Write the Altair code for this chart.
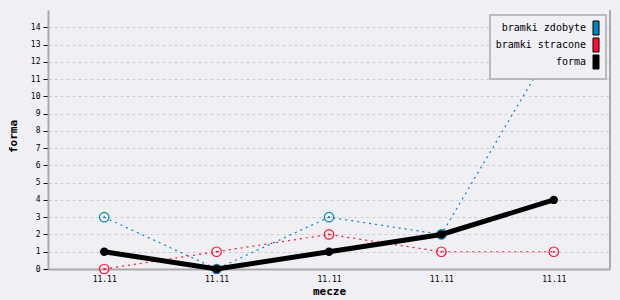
import altair as alt
import pandas as pd

mecze = ["11.11", "11.11", "11.11", "11.11", "11.11"]
bramki_zdobyte = [3, 0, 3, 2, 13]
bramki_stracone = [0, 1, 2, 1, 1]
forma = [1, 0, 1, 2, 4]

series_names = ["bramki zdobyte", "bramki stracone", "forma"]
series_colors = ["#0a82c0", "#ff1030", "#000000"]

idx = list(range(len(mecze)))
df = pd.DataFrame({"i": idx, "mecz": mecze, "zdobyte": bramki_zdobyte,
                   "stracone": bramki_stracone, "forma": forma})

label_arr = "[" + ",".join("'%s'" % m for m in mecze) + "]"
FONT = "DejaVu Sans Mono"

x_enc = alt.X("i:O", scale=alt.Scale(type="point", padding=0.5),
              axis=alt.Axis(title="mecze", labelExpr=label_arr + "[datum.value]",
                            labelAngle=0, ticks=False, labelPadding=6, grid=False,
                            domainColor="#aaaaaa", domainWidth=2,
                            titleFont=FONT, titleFontSize=11, titleFontWeight="bold",
                            titleBaseline="alphabetic", titleY=25,
                            labelFont=FONT, labelFontSize=8,
                            labelColor="#000000", titleColor="#000000"))

y_axis = alt.Axis(title="forma", values=list(range(0, 15)), tickColor="#000000",
                  tickSize=5, labelPadding=3, grid=True, gridColor="#cccccc",
                  gridDash=[3, 3], domainColor="#aaaaaa", domainWidth=2,
                  titleFont=FONT, titleFontSize=11, titleFontWeight="bold",
                  titleX=-30, titleY=126, titleAngle=-90,
                  labelFont=FONT, labelFontSize=8, labelColor="#000000",
                  titleColor="#000000")
y_scale = alt.Scale(domain=[0, 15], nice=False)

base = alt.Chart(df)

def yenc(field):
    return alt.Y(field + ":Q", scale=y_scale, axis=y_axis, title="forma")

def dotted(field, color):
    y = yenc(field)
    line = base.mark_line(color=color, strokeWidth=1.2, strokeDash=[2, 4]).encode(x=x_enc, y=y)
    ring = base.mark_point(shape="circle", filled=False, color=color, size=90,
                           strokeWidth=1.2, opacity=1).encode(x=x_enc, y=y)
    dot = base.mark_point(shape="square", filled=True, color=color, size=3,
                          opacity=1).encode(x=x_enc, y=y)
    return line + ring + dot

blue = dotted("zdobyte", series_colors[0])
red = dotted("stracone", series_colors[1])
yk = yenc("forma")
black = (base.mark_line(color="#000000", strokeWidth=5).encode(x=x_enc, y=yk)
         + base.mark_point(shape="circle", filled=True, color="#000000", size=70,
                           opacity=1).encode(x=x_enc, y=yk))

one = pd.DataFrame({"a": [0]})
right_border = alt.Chart(one).mark_rule(color="#aaaaaa", strokeWidth=2).encode(
    x=alt.value(562), y=alt.value(0), y2=alt.value(259))

# legend (drawn by hand: labels right-aligned, swatches on the right)
leg_layers = [alt.Chart(one).mark_rect(
    fill="#efeff4", stroke="#aaaaaa", strokeWidth=1.5).encode(
    x=alt.value(442), x2=alt.value(558), y=alt.value(5), y2=alt.value(69))]
for k, (name, col) in enumerate(zip(series_names, series_colors)):
    cy = 18 + 17 * k
    leg_layers.append(alt.Chart(pd.DataFrame({"name": [name]})).mark_text(
        align="right", baseline="middle", font=FONT, fontSize=10, color="#000000").encode(
        x=alt.value(538), y=alt.value(cy), text="name:N"))
    leg_layers.append(alt.Chart(one).mark_rect(
        fill=col, stroke="#000000", strokeWidth=1).encode(
        x=alt.value(545), x2=alt.value(551), y=alt.value(cy - 7), y2=alt.value(cy + 7)))

chart = alt.layer(blue, red, black, right_border, *leg_layers).properties(
    width=562, height=259,
    background="#efeff4",
    padding={"left": 48, "top": 10, "right": 10, "bottom": 31},
    autosize=alt.AutoSizeParams(type="none"),
).configure_view(stroke=None)

chart.save("out.html", embed_options={"renderer": "svg", "actions": False})
